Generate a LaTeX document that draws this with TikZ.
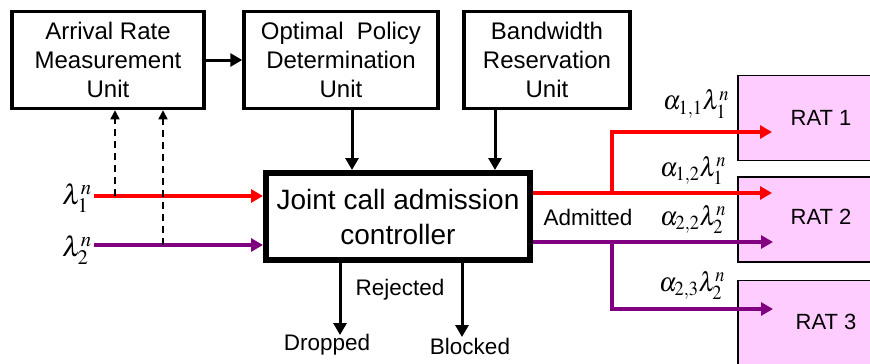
\documentclass[tikz,border=0pt]{standalone}
\usepackage{mathptmx}
\usepackage[no-math]{fontspec}
\setmainfont{Liberation Sans}
\usetikzlibrary{positioning,arrows.meta}

\definecolor{flowred}{RGB}{255,0,0}
\definecolor{flowpurple}{RGB}{128,0,128}
\definecolor{ratpink}{RGB}{255,204,255}

\newcommand{\ratelbl}[1]{\scalebox{0.92}[1]{\fontsize{27}{30}\selectfont$#1$}}
\newcommand{\inlbl}[1]{{\fontsize{28}{30}\selectfont$#1$}}

\begin{document}
\begin{tikzpicture}[x = 1pt, y = -1pt, -{Triangle[length=12pt, width=13pt]},
                    line width = 3pt, node distance = 233pt and 233pt, on grid,
                    unit/.style  = {rectangle,
                                    draw,
                                    line width = 3.5pt,
                                    minimum height = 97pt,
                                    align = center,
                                    font = \fontsize{24}{29}\selectfont},
                    jcac/.style  = {rectangle,
                                    draw,
                                    line width = 6pt,
                                    minimum width = 264pt,
                                    minimum height = 87pt,
                                    align = center,
                                    font = \fontsize{28}{35}\selectfont},
                    rat/.style   = {rectangle,
                                    draw,
                                    line width = 1.5pt,
                                    fill = ratpink,
                                    minimum width = 166pt,
                                    minimum height = 85pt,
                                    font = \fontsize{22}{26}\selectfont},
                    lbl/.style   = {font = \fontsize{22.5}{26}\selectfont},
                    meas/.style  = {line width = 1.5pt,
                                    dash pattern = on 7pt off 5pt,
                                    -{Triangle[length=9pt, width=9pt]}},
                    flow1/.style = {flowred, line width = 4pt},
                    flow2/.style = {flowpurple, line width = 4pt}]

\useasboundingbox (0,0) rectangle (870,364);

% control units
\node[unit, minimum width = 192pt] (arm) at (108,60) {Arrival Rate\\Measurement\\Unit};
\node[unit, minimum width = 194pt] (opd) [right = of arm] {Optimal\ \ Policy\\Determination\\Unit};
\node[unit, minimum width = 166pt] (bru) [right = 206pt of opd] {Bandwidth\\Reservation\\Unit};

\node[jcac] (jcac) at (398,216.5) {Joint call admission\\controller};

% radio access technologies
\node[rat] (rat1) at (821,118) {RAT 1};
\node[rat] (rat2) at (821,219.5) {\raisebox{6pt}{RAT 2}};
\node[rat] (rat3) at (821,323) {\raisebox{3pt}{\hspace{10pt}RAT 3}};

% incoming traffic
\node[inner sep = 1pt] (lam1) at (77,198) {\inlbl{\lambda_1^n}};
\node[inner sep = 1pt] (lam2) at (77,250) {\inlbl{\lambda_2^n}};

\draw[flow1] (lam1.east |- 0,196) -- (jcac.west |- 0,196);
\draw[flow2] (lam2.east |- 0,245) -- (jcac.west |- 0,245);

\coordinate (m1) at (115,196);
\coordinate (m2) at (163,245);
\draw[meas] (m1) -- (m1 |- arm.south);
\draw[meas] (m2) -- (m2 |- arm.south);

\draw (arm) -- (opd);
\draw (opd.south -| 352,0) -- (jcac.north -| 352,0);
\draw (bru.south -| 495,0) -- (jcac.north -| 495,0);

% admitted traffic
\coordinate (t1) at (772,132);
\coordinate (t2) at (772,193);
\coordinate (t3) at (773,242);
\coordinate (t4) at (773,309);
\coordinate (b1) at (612,193);
\coordinate (b2) at (612,242);

\draw[flow1] (t2 -| jcac.east) -- (t2);
\draw[flow1] (b1) -- (b1 |- t1) -- (t1);
\draw[flow2] (t3 -| jcac.east) -- (t3);
\draw[flow2] (b2) -- (b2 |- t4) -- (t4);

\node[lbl] (adm) at (588,217) {Admitted};
\node[inner sep = 0pt] (a11) at (696,104) {\ratelbl{\alpha_{1,1}\lambda_1^n}};
\node[inner sep = 0pt] (a12) at (693,170) {\ratelbl{\alpha_{1,2}\lambda_1^n}};
\node[inner sep = 0pt] (a22) at (693,219) {\ratelbl{\alpha_{2,2}\lambda_2^n}};
\node[inner sep = 0pt] (a23) at (692,285) {\ratelbl{\alpha_{2,3}\lambda_2^n}};

% rejected traffic
\coordinate (dt) at (340,335);
\coordinate (bt) at (462,337);
\draw (dt |- jcac.south) -- (dt);
\draw (bt |- jcac.south) -- (bt);

\node[lbl] (rej) at (400,290) {Rejected};
\node[lbl] (drp) at (327,345) {Dropped};
\node[lbl] (blk) at (470,346) {Blocked};

\end{tikzpicture}
\end{document}
